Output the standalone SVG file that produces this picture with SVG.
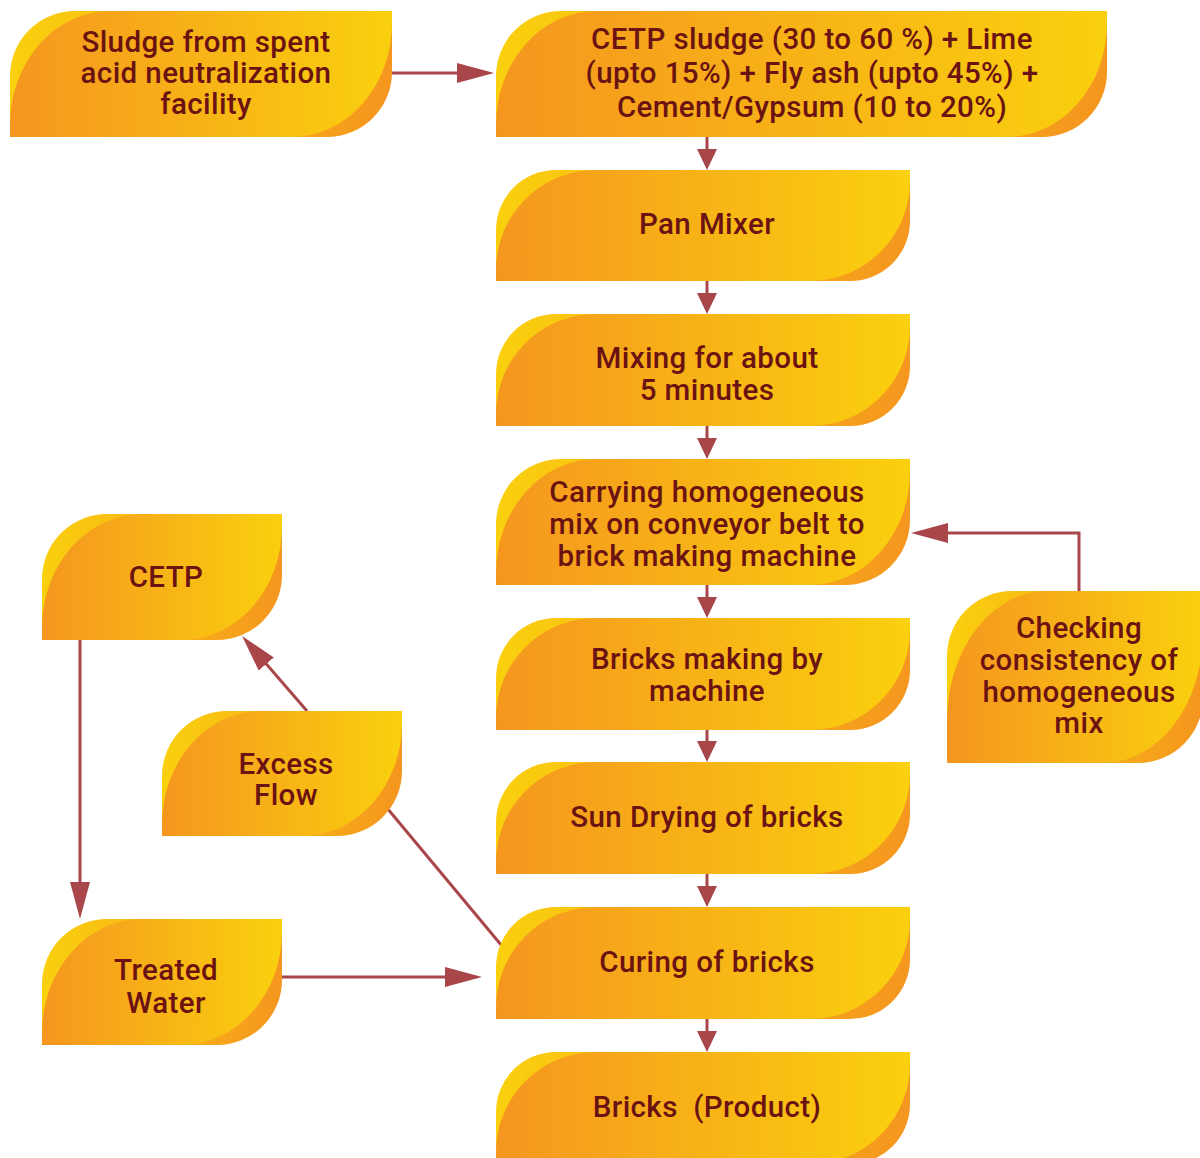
<svg xmlns="http://www.w3.org/2000/svg" width="1200" height="1158" viewBox="0 0 1200 1158">
  <style>
    .outer { fill: url(#gOuter); }
    .inner { fill: url(#gInner); }
    .lbl { font-family: Roboto, "Liberation Sans", sans-serif; font-size: 29.5px; letter-spacing: 0.4px; font-weight: 500; fill: #6B1212; text-anchor: middle; }
    .wire { fill: none; stroke: #A8464A; stroke-width: 3; }
  </style>
  <defs>
    <linearGradient id="gOuter" x1="0" y1="0" x2="1" y2="0">
      <stop offset="0" stop-color="#FAD00E"/>
      <stop offset="1" stop-color="#F5961F"/>
    </linearGradient>
    <linearGradient id="gInner" x1="0" y1="0" x2="1" y2="0">
      <stop offset="0" stop-color="#F5961F"/>
      <stop offset="1" stop-color="#FAD00E"/>
    </linearGradient>
    <marker id="headLong" markerUnits="userSpaceOnUse" markerWidth="37" markerHeight="20" refX="27" refY="10" orient="auto">
      <path d="M0,0 L37,10 L0,20 Z" fill="#A8464A"/>
    </marker>
    <marker id="headShort" markerUnits="userSpaceOnUse" markerWidth="21" markerHeight="20" refX="11" refY="10" orient="auto">
      <path d="M0,0 L21,10 L0,20 Z" fill="#A8464A"/>
    </marker>
  </defs>

  <rect width="1200" height="1158" fill="#FFFFFF"/>

  <g id="connectors">
    <path class="wire" d="M392,73 H484" marker-end="url(#headLong)"/>
    <path class="wire" d="M707,137 V160" marker-end="url(#headShort)"/>
    <path class="wire" d="M707,281 V304" marker-end="url(#headShort)"/>
    <path class="wire" d="M707,426 V449" marker-end="url(#headShort)"/>
    <path class="wire" d="M707,585 V608" marker-end="url(#headShort)"/>
    <path class="wire" d="M707,730 V752" marker-end="url(#headShort)"/>
    <path class="wire" d="M707,874 V897" marker-end="url(#headShort)"/>
    <path class="wire" d="M707,1019 V1042" marker-end="url(#headShort)"/>
    <path class="wire" d="M1079,591 V533 H921" marker-end="url(#headLong)"/>
    <path class="wire" d="M307,711 L248.6,643.6" marker-end="url(#headLong)"/>
    <path class="wire" d="M502,946 L387,808"/>
    <path class="wire" d="M80,640 V909" marker-end="url(#headLong)"/>
    <path class="wire" d="M282,977 H472" marker-end="url(#headLong)"/>
  </g>

  <!-- x=10 y=11 w=382 h=126 -->
  <g id="sludge-source">
    <path class="outer" d="M10,137 V76 A65,65 0 0 1 75,11 H392 V72 A65,65 0 0 1 327,137 Z"/>
    <path class="inner" d="M10,137 V125 A100,114 0 0 1 110,11 H392 V23 A100,114 0 0 1 292,137 Z"/>
    <text class="lbl" x="206" y="52">Sludge from spent</text>
    <text class="lbl" x="206" y="83">acid neutralization</text>
    <text class="lbl" x="206" y="114">facility</text>
  </g>

  <!-- x=496 y=11 w=611 h=126 -->
  <g id="raw-mix">
    <path class="outer" d="M496,137 V76 A65,65 0 0 1 561,11 H1107 V72 A65,65 0 0 1 1042,137 Z"/>
    <path class="inner" d="M496,137 V125 A100,114 0 0 1 596,11 H1107 V23 A100,114 0 0 1 1007,137 Z"/>
    <text class="lbl" x="812" y="49">CETP sludge (30 to 60 %) + Lime</text>
    <text class="lbl" x="812" y="83">(upto 15%) + Fly ash (upto 45%) +</text>
    <text class="lbl" x="812" y="117">Cement/Gypsum (10 to 20%)</text>
  </g>

  <!-- x=496 y=170 w=414 h=111 -->
  <g id="pan-mixer">
    <path class="outer" d="M496,281 V230 A60,60 0 0 1 556,170 H910 V221 A60,60 0 0 1 850,281 Z"/>
    <path class="inner" d="M496,281 V270 A100,100 0 0 1 596,170 H910 V181 A100,100 0 0 1 810,281 Z"/>
    <text class="lbl" x="707" y="234">Pan Mixer</text>
  </g>

  <!-- x=496 y=314 w=414 h=112 -->
  <g id="mixing">
    <path class="outer" d="M496,426 V374 A60,60 0 0 1 556,314 H910 V366 A60,60 0 0 1 850,426 Z"/>
    <path class="inner" d="M496,426 V414 A100,100 0 0 1 596,314 H910 V326 A100,100 0 0 1 810,426 Z"/>
    <text class="lbl" x="707" y="368">Mixing for about</text>
    <text class="lbl" x="707" y="400">5 minutes</text>
  </g>

  <!-- x=496 y=459 w=414 h=126 -->
  <g id="conveying">
    <path class="outer" d="M496,585 V524 A65,65 0 0 1 561,459 H910 V520 A65,65 0 0 1 845,585 Z"/>
    <path class="inner" d="M496,585 V573 A100,114 0 0 1 596,459 H910 V471 A100,114 0 0 1 810,585 Z"/>
    <text class="lbl" x="707" y="502">Carrying homogeneous</text>
    <text class="lbl" x="707" y="534">mix on conveyor belt to</text>
    <text class="lbl" x="707" y="566">brick making machine</text>
  </g>

  <!-- x=496 y=618 w=414 h=112 -->
  <g id="brick-making">
    <path class="outer" d="M496,730 V678 A60,60 0 0 1 556,618 H910 V670 A60,60 0 0 1 850,730 Z"/>
    <path class="inner" d="M496,730 V718 A100,100 0 0 1 596,618 H910 V630 A100,100 0 0 1 810,730 Z"/>
    <text class="lbl" x="707" y="669">Bricks making by</text>
    <text class="lbl" x="707" y="701">machine</text>
  </g>

  <!-- x=496 y=762 w=414 h=112 -->
  <g id="sun-drying">
    <path class="outer" d="M496,874 V822 A60,60 0 0 1 556,762 H910 V814 A60,60 0 0 1 850,874 Z"/>
    <path class="inner" d="M496,874 V862 A100,100 0 0 1 596,762 H910 V774 A100,100 0 0 1 810,874 Z"/>
    <text class="lbl" x="707" y="827">Sun Drying of bricks</text>
  </g>

  <!-- x=496 y=907 w=414 h=112 -->
  <g id="curing">
    <path class="outer" d="M496,1019 V967 A60,60 0 0 1 556,907 H910 V959 A60,60 0 0 1 850,1019 Z"/>
    <path class="inner" d="M496,1019 V1007 A100,100 0 0 1 596,907 H910 V919 A100,100 0 0 1 810,1019 Z"/>
    <text class="lbl" x="707" y="972">Curing of bricks</text>
  </g>

  <!-- x=496 y=1052 w=414 h=112 -->
  <g id="product">
    <path class="outer" d="M496,1164 V1112 A60,60 0 0 1 556,1052 H910 V1104 A60,60 0 0 1 850,1164 Z"/>
    <path class="inner" d="M496,1164 V1152 A100,100 0 0 1 596,1052 H910 V1064 A100,100 0 0 1 810,1164 Z"/>
    <text class="lbl" x="707" y="1117" xml:space="preserve">Bricks  (Product)</text>
  </g>

  <!-- x=947 y=591 w=256 h=172 -->
  <g id="consistency-check">
    <path class="outer" d="M947,763 V656 A65,65 0 0 1 1012,591 H1203 V698 A65,65 0 0 1 1138,763 Z"/>
    <path class="inner" d="M947,763 V721 A100,130 0 0 1 1047,591 H1203 V633 A100,130 0 0 1 1103,763 Z"/>
    <text class="lbl" x="1079" y="638">Checking</text>
    <text class="lbl" x="1079" y="670">consistency of</text>
    <text class="lbl" x="1079" y="702">homogeneous</text>
    <text class="lbl" x="1079" y="733">mix</text>
  </g>

  <!-- x=42 y=514 w=240 h=126 -->
  <g id="cetp">
    <path class="outer" d="M42,640 V579 A65,65 0 0 1 107,514 H282 V575 A65,65 0 0 1 217,640 Z"/>
    <path class="inner" d="M42,640 V628 A100,114 0 0 1 142,514 H282 V526 A100,114 0 0 1 182,640 Z"/>
    <text class="lbl" x="166" y="587">CETP</text>
  </g>

  <!-- x=162 y=711 w=240 h=125 -->
  <g id="excess-flow">
    <path class="outer" d="M162,836 V776 A65,65 0 0 1 227,711 H402 V771 A65,65 0 0 1 337,836 Z"/>
    <path class="inner" d="M162,836 V824 A100,113 0 0 1 262,711 H402 V723 A100,113 0 0 1 302,836 Z"/>
    <text class="lbl" x="286" y="774">Excess</text>
    <text class="lbl" x="286" y="805">Flow</text>
  </g>

  <!-- x=42 y=919 w=240 h=126 -->
  <g id="treated-water">
    <path class="outer" d="M42,1045 V984 A65,65 0 0 1 107,919 H282 V980 A65,65 0 0 1 217,1045 Z"/>
    <path class="inner" d="M42,1045 V1033 A100,114 0 0 1 142,919 H282 V931 A100,114 0 0 1 182,1045 Z"/>
    <text class="lbl" x="166" y="980">Treated</text>
    <text class="lbl" x="166" y="1013">Water</text>
  </g>
</svg>
